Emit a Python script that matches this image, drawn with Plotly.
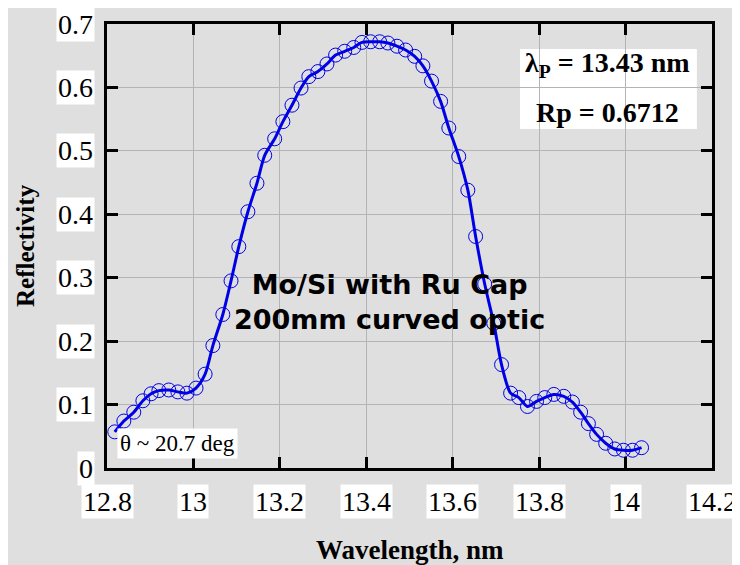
import plotly.graph_objects as go

# ---- data ----
wavelength = [12.818, 12.839, 12.862, 12.883, 12.902, 12.920, 12.943, 12.964, 12.985, 13.006,
              13.027, 13.045, 13.068, 13.087, 13.105, 13.126, 13.147, 13.165, 13.188, 13.207,
              13.228, 13.249, 13.267, 13.288, 13.309, 13.329, 13.350, 13.371, 13.390, 13.410,
              13.431, 13.450, 13.471, 13.491, 13.512, 13.531, 13.551, 13.572, 13.591, 13.614,
              13.635, 13.653, 13.674, 13.695, 13.713, 13.734, 13.753, 13.773, 13.794, 13.813,
              13.834, 13.857, 13.877, 13.896, 13.914, 13.933, 13.954, 13.975, 13.995, 14.016,
              14.037]
reflectivity = [0.057, 0.074, 0.088, 0.106, 0.117, 0.122, 0.123, 0.120, 0.118, 0.126,
                0.148, 0.193, 0.242, 0.295, 0.349, 0.404, 0.449, 0.493, 0.519, 0.546,
                0.572, 0.599, 0.617, 0.625, 0.637, 0.651, 0.657, 0.663, 0.671, 0.672,
                0.672, 0.670, 0.665, 0.659, 0.649, 0.634, 0.610, 0.578, 0.536, 0.491,
                0.438, 0.365, 0.290, 0.228, 0.163, 0.118, 0.111, 0.097, 0.105, 0.111,
                0.116, 0.113, 0.104, 0.088, 0.070, 0.053, 0.039, 0.030, 0.028, 0.028,
                0.032]

x_ticks = [12.8, 13.0, 13.2, 13.4, 13.6, 13.8, 14.0, 14.2]
x_tick_labels = ["12.8", "13", "13.2", "13.4", "13.6", "13.8", "14", "14.2"]
y_ticks = [0, 0.1, 0.2, 0.3, 0.4, 0.5, 0.6, 0.7]
y_tick_labels = ["0", "0.1", "0.2", "0.3", "0.4", "0.5", "0.6", "0.7"]

x_title = "Wavelength, nm"
y_title = "Reflectivity"
sample_text = "Mo/Si with Ru Cap<br>200mm curved optic"
angle_text = "θ ~ 20.7 deg"
peak_wl_text = "λ<sub>P</sub> = 13.43 nm"
peak_r_text = "Rp = 0.6712"

BLUE = "#0000e6"
BG = "#dfdfdf"
SERIF = "Liberation Serif, Times New Roman, serif"

fig = go.Figure()
fig.add_trace(go.Scatter(
    x=wavelength, y=reflectivity, mode="lines+markers",
    line=dict(color=BLUE, width=3, shape="spline", smoothing=0.8),
    marker=dict(symbol="circle-open", size=14, color=BLUE, line=dict(width=1, color=BLUE)),
    showlegend=False, hoverinfo="skip",
))

axis_common = dict(
    showline=True, linecolor="black", linewidth=3, mirror="allticks",
    ticks="inside", ticklen=11, tickwidth=3, tickcolor="black",
    showgrid=True, gridcolor="#b4b4b4", gridwidth=1,
    showticklabels=False, zeroline=False,
)
fig.update_xaxes(range=[12.8, 14.2], tickvals=x_ticks, **axis_common)
fig.update_yaxes(range=[0, 0.7], tickvals=y_ticks, **axis_common)

annotations = []
for v, t in zip(x_ticks, x_tick_labels):
    annotations.append(dict(x=v, y=0, xref="x", yref="paper", text=t, showarrow=False,
                            xanchor="center", yanchor="top", yshift=-16,
                            bgcolor="white", borderpad=1,
                            font=dict(family=SERIF, size=28, color="black")))
for v, t in zip(y_ticks, y_tick_labels):
    annotations.append(dict(x=0, y=v, xref="paper", yref="y", text=t, showarrow=False,
                            xanchor="right", yanchor="middle", xshift=-12,
                            bgcolor="white", borderpad=1,
                            font=dict(family=SERIF, size=28, color="black")))

annotations.append(dict(x=0.5, y=-0.185, xref="paper", yref="paper", text=x_title,
                        showarrow=False, xanchor="center", yanchor="middle",
                        font=dict(family=SERIF, size=27, color="black", weight="bold")))
annotations.append(dict(x=-0.1355, y=0.5, xref="paper", yref="paper", text=y_title,
                        showarrow=False, textangle=-90, xanchor="center", yanchor="middle",
                        font=dict(family=SERIF, size=25, color="black", weight="bold")))
annotations.append(dict(x=13.454, y=0.261, xref="x", yref="y", text=sample_text,
                        showarrow=False, xanchor="center", yanchor="middle",
                        font=dict(family="DejaVu Sans", size=27, color="black", weight="bold")))
annotations.append(dict(x=12.823, y=0.038, xref="x", yref="y", text=angle_text,
                        showarrow=False, xanchor="left", yanchor="middle",
                        bgcolor="white", borderpad=2,
                        font=dict(family=SERIF, size=23, color="black")))
annotations.append(dict(x=0.828, y=0.9077, xref="paper", yref="paper", text=peak_wl_text,
                        showarrow=False, xanchor="center", yanchor="middle",
                        font=dict(family=SERIF, size=28, color="black", weight="bold")))
annotations.append(dict(x=0.828, y=0.8018, xref="paper", yref="paper", text=peak_r_text,
                        showarrow=False, xanchor="center", yanchor="middle",
                        font=dict(family=SERIF, size=28, color="black", weight="bold")))

# the page adds an 8px body margin, so the figure is sized to fill the remaining window
fig.update_layout(
    width=732, height=557,
    margin=dict(l=99, r=28, t=16, b=97),
    paper_bgcolor=BG, plot_bgcolor=BG,
    annotations=annotations,
    shapes=[dict(type="rect", xref="paper", yref="paper", x0=0.6826, x1=0.975, y0=0.7635, y1=0.9437,
                 fillcolor="white", line=dict(width=0), layer="below")],
)

fig.write_html("out.html")
